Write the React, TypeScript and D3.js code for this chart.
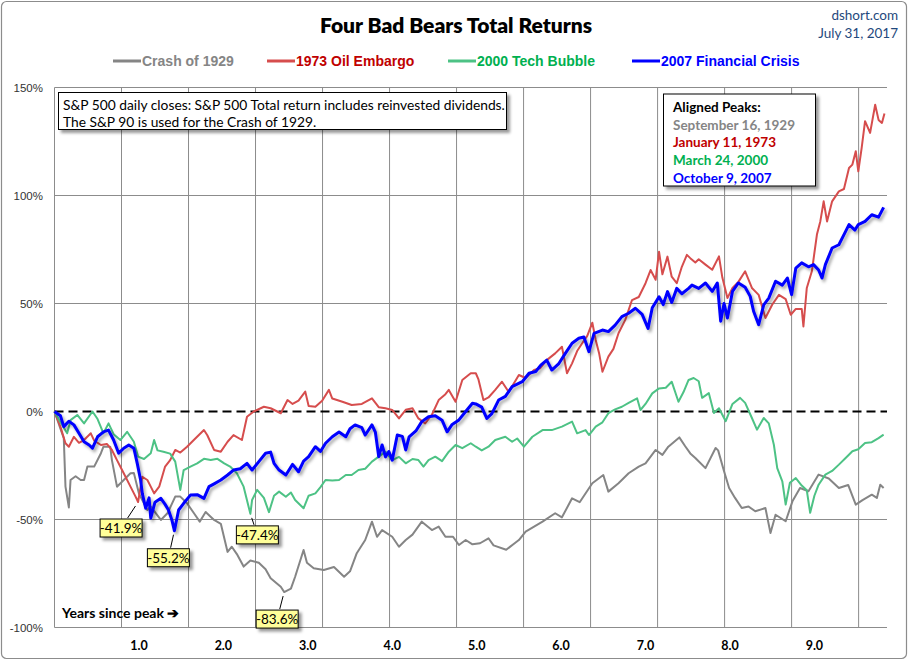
import * as d3 from "d3";

type Pt = [number, number]; // [years since peak, total return %]

const crash1929: Pt[] = [
  [0, 0], [0.07, -8], [0.11, -12.4], [0.13, -34.8], [0.17, -44.4], [0.19, -31.7], [0.25, -30], [0.31, -31.7],
  [0.35, -31.7], [0.39, -25.5], [0.47, -25.5], [0.55, -19.3], [0.58, -16.3], [0.66, -16.3], [0.68, -22.5],
  [0.74, -34.8], [0.82, -31.7], [0.9, -28.6], [0.94, -28.5], [1.0, -38], [1.1, -45.6], [1.14, -44], [1.26, -50.2],
  [1.34, -47], [1.43, -39.4], [1.49, -39.4], [1.57, -42.5], [1.65, -47], [1.72, -51], [1.79, -46.5], [1.89, -50.2],
  [1.97, -52], [2.05, -65], [2.1, -62.6], [2.16, -66], [2.24, -71.8], [2.32, -69], [2.42, -70], [2.5, -73],
  [2.56, -77.2], [2.68, -81.1], [2.72, -83.6], [2.8, -82], [2.85, -76.5], [2.95, -64.1], [2.99, -70], [3.07, -72.6],
  [3.19, -73.4], [3.31, -72], [3.43, -76.5], [3.5, -74], [3.58, -65.6], [3.68, -59.5], [3.76, -51], [3.82, -58],
  [3.88, -54.9], [4.0, -58], [4.08, -62.6], [4.16, -59.5], [4.24, -57], [4.35, -51], [4.47, -54.9], [4.55, -53.3],
  [4.63, -58], [4.72, -58], [4.79, -61.8], [4.87, -59.5], [4.95, -61.5], [5.04, -61], [5.14, -58.7], [5.2, -62],
  [5.35, -64], [5.45, -61], [5.5, -59.5], [5.58, -55.6], [5.78, -51], [5.93, -47.1], [6.01, -49], [6.13, -40.2],
  [6.22, -42], [6.37, -33.2], [6.5, -29.4], [6.56, -37.1], [6.68, -33.2], [6.8, -28.6], [6.92, -25.5], [7.0, -24],
  [7.12, -17.8], [7.2, -20.1], [7.27, -16.3], [7.4, -12], [7.47, -16.1], [7.53, -19.4], [7.59, -21.5], [7.71, -26.2],
  [7.83, -16.9], [7.86, -18], [7.93, -27.7], [7.99, -35.4], [8.06, -40], [8.14, -44.7], [8.22, -44], [8.3, -46.2],
  [8.42, -44.7], [8.48, -56.3], [8.54, -47.8], [8.66, -50.8], [8.74, -41.6], [8.83, -35.4], [8.93, -36.9],
  [9.05, -29.2], [9.17, -31], [9.29, -35.4], [9.4, -34], [9.49, -43.1], [9.57, -41], [9.68, -38.5], [9.74, -40],
  [9.78, -33.9], [9.82, -35.4],
];

const oil1973: Pt[] = [
  [0, 0], [0.07, -7], [0.13, -14.7], [0.17, -16.3], [0.23, -11.7], [0.29, -14.5], [0.35, -13.2], [0.43, -10.1],
  [0.47, -13.5], [0.55, -15.5], [0.62, -15], [0.68, -17.8], [0.74, -22.5], [0.82, -28.6], [0.9, -34.8],
  [0.96, -39.4], [0.99, -41.9], [1.04, -30.2], [1.1, -31.7], [1.14, -34.8], [1.18, -37.9], [1.24, -34.8],
  [1.31, -25.5], [1.37, -22.5], [1.43, -17.8], [1.49, -19], [1.57, -16.3], [1.65, -13.2], [1.77, -8.6], [1.81, -11],
  [1.89, -17.8], [1.97, -18.6], [2.05, -14], [2.12, -10.9], [2.22, -13.2], [2.28, -2.4], [2.36, 0], [2.48, 2.2],
  [2.56, 1.5], [2.68, -0.8], [2.76, 5.3], [2.82, 3.5], [2.89, 5], [2.97, 9.2], [3.01, 2.5], [3.09, 2.2], [3.17, 5],
  [3.25, 10], [3.29, 6], [3.41, 4.5], [3.52, 3], [3.64, 3.5], [3.76, 6.1], [3.84, 2], [3.92, 1.5], [4.0, 0.7],
  [4.08, -3.2], [4.16, 0.8], [4.24, 1.5], [4.31, -3.2], [4.39, -5.5], [4.47, -1.5], [4.55, 5.3], [4.63, 8],
  [4.67, 10], [4.75, 4.5], [4.83, 14.6], [4.93, 17.7], [4.99, 17.7], [5.02, 15], [5.08, 5.3], [5.14, 6.5],
  [5.22, 10], [5.3, 13.8], [5.38, 9], [5.5, 16.9], [5.58, 15.5], [5.68, 19.2], [5.75, 20], [5.83, 23.8],
  [5.93, 26.9], [6.01, 30], [6.07, 17.7], [6.13, 22.3], [6.19, 28], [6.25, 31.6], [6.31, 35], [6.37, 41.1],
  [6.41, 33.1], [6.45, 27], [6.49, 18.4], [6.56, 25.4], [6.62, 29], [6.68, 36.2], [6.76, 42.4], [6.84, 51.6],
  [6.92, 53], [7.0, 59.4], [7.06, 65.5], [7.12, 61], [7.16, 74], [7.2, 63.5], [7.26, 71.7], [7.31, 62.4],
  [7.37, 59.4], [7.43, 67], [7.49, 72.5], [7.53, 71], [7.59, 69], [7.63, 70.5], [7.71, 68], [7.79, 65.6],
  [7.87, 71.8], [7.91, 62], [7.97, 52.5], [8.03, 57.2], [8.1, 60], [8.18, 64.9], [8.26, 57.2], [8.34, 54],
  [8.42, 43.3], [8.5, 49.4], [8.58, 54], [8.66, 52], [8.72, 44.8], [8.78, 47.5], [8.85, 47.5], [8.87, 39.4],
  [8.91, 57.2], [8.97, 64.9], [9.03, 81.9], [9.07, 88], [9.11, 97.3], [9.15, 88], [9.21, 97.3], [9.29, 101.9],
  [9.35, 103], [9.41, 112.7], [9.45, 114.3], [9.49, 120.5], [9.52, 111.2], [9.56, 122], [9.6, 134.4], [9.66, 129],
  [9.72, 142], [9.76, 135], [9.8, 133.6], [9.83, 138],
];

const tech2000: Pt[] = [
  [0, 0], [0.07, -5], [0.15, -10.1], [0.19, -4], [0.27, -1.6], [0.35, -5.5], [0.45, 0], [0.51, -3.5], [0.58, -10.1],
  [0.64, -5.5], [0.7, -10.5], [0.78, -13.2], [0.86, -9.4], [0.94, -14], [0.99, -20.9], [1.06, -22], [1.14, -19.3],
  [1.18, -13.2], [1.22, -18], [1.29, -18.6], [1.37, -19.5], [1.43, -23.2], [1.49, -36.3], [1.53, -27.1],
  [1.61, -25.5], [1.69, -24], [1.77, -21.9], [1.85, -22.5], [1.93, -21.9], [2.01, -24], [2.08, -25.5],
  [2.16, -28.6], [2.24, -34.8], [2.32, -47.4], [2.34, -41], [2.4, -36.3], [2.48, -40], [2.54, -46.6], [2.6, -39],
  [2.66, -37.1], [2.74, -39.5], [2.8, -37.5], [2.85, -41], [2.95, -44.8], [3.01, -39], [3.09, -37.9], [3.15, -35],
  [3.21, -31.7], [3.29, -32], [3.37, -31.7], [3.45, -29.4], [3.52, -29.4], [3.6, -27.1], [3.68, -26.5],
  [3.76, -23.2], [3.84, -20.9], [3.92, -18.6], [4.0, -22.5], [4.08, -21], [4.16, -24], [4.24, -22], [4.31, -22.5],
  [4.37, -25.5], [4.43, -22.5], [4.51, -20.9], [4.59, -23], [4.67, -18.6], [4.75, -15.5], [4.83, -17],
  [4.93, -14.7], [4.99, -16.3], [5.06, -18], [5.14, -16.3], [5.22, -13.2], [5.34, -11.7], [5.42, -14],
  [5.48, -12.5], [5.56, -16.3], [5.66, -11.7], [5.78, -8.6], [5.89, -8.6], [6.01, -7], [6.13, -4.7], [6.19, -10.1],
  [6.29, -8.6], [6.33, -10.9], [6.41, -7], [6.49, -5], [6.56, -0.8], [6.64, 1], [6.72, 2.2], [6.8, 4], [6.9, 6.1],
  [6.94, 0.7], [7.0, 3.5], [7.08, 8.4], [7.16, 10.7], [7.24, 11], [7.31, 13.8], [7.39, 4.5], [7.45, 9],
  [7.51, 14.6], [7.57, 15.5], [7.63, 14], [7.67, 6.3], [7.75, 8.5], [7.81, -0.7], [7.87, 1.5], [7.95, -4.5],
  [8.03, 3.5], [8.12, 6.3], [8.18, 4], [8.26, -3], [8.32, -8.4], [8.4, -3], [8.46, -5.5], [8.52, -15.4],
  [8.56, -26.2], [8.62, -32.3], [8.66, -43.1], [8.71, -33], [8.78, -30.8], [8.85, -34.3], [8.91, -36.5],
  [8.95, -46.9], [9.0, -39], [9.05, -33.9], [9.13, -29.2], [9.21, -27.5], [9.29, -24.6], [9.37, -21.5],
  [9.45, -18.4], [9.52, -17.5], [9.6, -14.6], [9.68, -14.2], [9.76, -12.3], [9.82, -10.7],
];

const crisis2007: Pt[] = [
  [0, 0], [0.07, -2], [0.11, -7], [0.17, -4.5], [0.23, -6.2], [0.29, -10.1], [0.35, -14], [0.41, -15.5],
  [0.45, -17], [0.51, -11.7], [0.58, -9.4], [0.64, -8.6], [0.7, -13.2], [0.76, -19.3], [0.82, -17], [0.88, -15.5],
  [0.94, -17], [0.98, -24], [1.02, -31.7], [1.04, -38], [1.08, -44.8], [1.12, -40], [1.14, -49.4], [1.19, -42],
  [1.26, -40.2], [1.31, -43], [1.35, -45.6], [1.39, -50.2], [1.42, -55.2], [1.47, -45.6], [1.53, -42.5],
  [1.61, -38.7], [1.69, -38.5], [1.77, -40.2], [1.83, -34.8], [1.89, -33.5], [1.97, -31.7], [2.05, -29.4],
  [2.12, -27.1], [2.2, -26.5], [2.28, -24], [2.34, -27.1], [2.42, -23.2], [2.5, -19.3], [2.56, -18.8], [2.6, -24],
  [2.66, -27.1], [2.74, -29.4], [2.82, -24.5], [2.89, -27.9], [2.95, -23], [3.01, -20.9], [3.09, -16.3],
  [3.15, -18.5], [3.21, -14.7], [3.29, -11.7], [3.37, -9.5], [3.45, -11.7], [3.5, -8], [3.56, -6.2], [3.64, -7.5],
  [3.68, -10.9], [3.76, -6.2], [3.8, -9.5], [3.84, -20.9], [3.88, -15.5], [3.92, -21], [3.96, -18.5], [4.0, -22.5],
  [4.06, -10.9], [4.12, -11.5], [4.16, -17.8], [4.2, -11.7], [4.28, -9], [4.35, -4.7], [4.43, -2.4], [4.51, -2],
  [4.59, -4], [4.65, -9.4], [4.71, -6], [4.79, -3.9], [4.87, 0], [4.95, 3.8], [4.99, 3.5], [5.06, 2], [5.12, -3.2],
  [5.18, -1], [5.26, 5.3], [5.34, 7], [5.42, 11.5], [5.54, 13.8], [5.62, 17.7], [5.7, 18.5], [5.76, 21.5],
  [5.83, 23.8], [5.89, 19.2], [5.97, 22], [6.05, 26.9], [6.13, 31.6], [6.21, 33.9], [6.27, 34.5], [6.33, 27.7],
  [6.39, 36.2], [6.49, 37.7], [6.56, 37], [6.64, 40], [6.72, 43.9], [6.8, 45.5], [6.88, 47.8], [6.96, 45],
  [7.03, 38.5], [7.08, 48], [7.16, 53.1], [7.21, 49.5], [7.26, 55.5], [7.31, 50.5], [7.37, 57], [7.43, 54.5],
  [7.51, 57], [7.55, 58.5], [7.63, 57], [7.71, 59.5], [7.79, 55.6], [7.85, 59.5], [7.89, 41.8], [7.93, 50],
  [7.97, 43.3], [8.03, 55.6], [8.1, 59.5], [8.18, 57.5], [8.24, 53.3], [8.28, 46.4], [8.34, 40.2], [8.4, 49.4],
  [8.46, 52.5], [8.54, 60.3], [8.62, 58.5], [8.68, 61.8], [8.73, 54.1], [8.78, 66.4], [8.85, 68.8], [8.93, 67],
  [8.99, 68], [9.05, 65.5], [9.09, 61.8], [9.13, 68], [9.21, 75.7], [9.29, 77.2], [9.37, 83.4], [9.41, 86.5],
  [9.48, 84], [9.52, 86.5], [9.6, 88], [9.68, 91.1], [9.76, 90], [9.82, 94.5],
];

const seriesData = [crash1929, oil1973, tech2000, crisis2007];
const seriesNames = ["Crash of 1929", "1973 Oil Embargo", "2000 Tech Bubble", "2007 Financial Crisis"];
const peakDates = ["September 16, 1929", "January 11, 1973", "March 24, 2000", "October 9, 2007"];
const yTicks = [-100, -50, 0, 50, 100, 150];
const xTickLabels = [1, 2, 3, 4, 5, 6, 7, 8, 9];
const noteLines = [
  "S&P 500 daily closes: S&P 500 Total return includes reinvested dividends.",
  "The S&P 90 is used for the Crash of 1929.",
];
// bear-market bottoms that get a callout: [series index, years since peak]
const troughs: [number, number][] = [[1, 0.99], [3, 1.42], [2, 2.32], [0, 2.72]];

// styling
const lineColors = ["#858585", "#D64D4D", "#4DC285", "#0000FF"];
const textColors = ["#858585", "#C00000", "#00B050", "#0000FF"];
const lineWidths = [2, 2, 2, 3];
const legendX = [113, 267, 448, 632];
const calloutOffsets: [number, number][] = [[-17, 26], [-6, 27], [7, 21], [-7, 27]];

const W = 910;
const H = 661;
const left = 54.5;
const right = 887;
const top = 87.5;
const bottom = 627.5;

const calibri = "Lato, 'Open Sans', sans-serif";
const arial = "'Liberation Sans', Arial, sans-serif";

export default function App() {
  const x = d3.scaleLinear().domain([0, 9.86]).range([left, right]);
  const y = d3.scaleLinear().domain([-100, 150]).range([bottom, top]);
  const line = d3.line<Pt>().x((d) => x(d[0])).y((d) => y(d[1]));

  // vertical grid every 200 trading days
  const gridYears = d3.range(0, 9.86, 200 / 252);

  return (
    <svg width={W} height={H} style={{ position: "absolute", left: 0, top: 0, background: "#fff" }}>
      <defs>
        <filter id="boxShadow" x="-10%" y="-20%" width="130%" height="160%">
          <feDropShadow dx="3" dy="3" stdDeviation="1.8" floodColor="#000" floodOpacity="0.4" />
        </filter>
        <filter id="lineShadow" x="-5%" y="-5%" width="110%" height="115%">
          <feDropShadow dx="2" dy="2.5" stdDeviation="1.5" floodColor="#000" floodOpacity="0.35" />
        </filter>
      </defs>
      <rect x={1.5} y={1.5} width={905} height={657} rx={5} fill="#fff" stroke="#8c8c8c" strokeWidth={1.2} />

      <text x={456} y={33} textAnchor="middle" fontFamily={calibri} fontWeight={800} fontSize={21} fill="#000">
        Four Bad Bears Total Returns
      </text>
      <text x={898} y={20} textAnchor="end" fontFamily={calibri} fontSize={13.5} fill="#1F497D">dshort.com</text>
      <text x={898} y={38} textAnchor="end" fontFamily={calibri} fontSize={13.5} fill="#1F497D">July 31, 2017</text>

      {seriesNames.map((name, i) => (
        <g key={name}>
          <line x1={legendX[i]} x2={legendX[i] + 28} y1={61} y2={61} stroke={lineColors[i]} strokeWidth={3} />
          <text x={legendX[i] + 29} y={66} fontFamily={arial} fontWeight={700} fontSize={14} fill={textColors[i]}>
            {name}
          </text>
        </g>
      ))}

      {/* grid */}
      {yTicks.filter((t) => t !== 0).map((t) => (
        <line key={t} x1={left} x2={right} y1={y(t)} y2={y(t)} stroke="#8c8c8c" strokeWidth={1} />
      ))}
      {gridYears.map((g) => (
        <line key={g} x1={x(g)} x2={x(g)} y1={top} y2={bottom} stroke="#8c8c8c" strokeWidth={1} />
      ))}
      {yTicks.map((t) => (
        <text key={t} x={43} y={y(t) + 4} textAnchor="end" fontFamily={arial} fontSize={11.5} fill="#333">
          {t}%
        </text>
      ))}
      {xTickLabels.map((t) => (
        <text key={t} x={x(t)} y={650} textAnchor="middle" fontFamily={calibri} fontWeight={700} fontSize={12.5} fill="#000">
          {t.toFixed(1)}
        </text>
      ))}

      <line x1={left} x2={right} y1={y(0)} y2={y(0)} stroke="#000" strokeWidth={2} strokeDasharray="9,5" />

      {seriesData.map((d, i) => (
        <path
          key={i}
          d={line(d) ?? ""}
          fill="none"
          stroke={lineColors[i]}
          strokeWidth={lineWidths[i]}
          strokeLinejoin="round"
          filter={i === 3 ? "url(#lineShadow)" : undefined}
        />
      ))}

      <text x={62} y={618} fontFamily={calibri} fontWeight={700} fontSize={14} fill="#000">
        Years since peak ➔
      </text>

      {troughs.map(([s, yr], i) => {
        const pt = seriesData[s].find((p) => p[0] === yr)!;
        const px = x(pt[0]);
        const py = y(pt[1]);
        const [dx, dy] = calloutOffsets[i];
        const cx = px + dx;
        const cy = py + dy;
        const boxTop = cy - 9;
        const t1 = 4 / dy;
        const t2 = (boxTop - 1 - py) / dy;
        return (
          <g key={i}>
            <line x1={px + dx * t1} y1={py + 4} x2={px + dx * t2} y2={boxTop - 1} stroke="#000" strokeWidth={1} />
            <rect x={cx - 21} y={boxTop} width={42} height={18} fill="#FFFF99" stroke="#000" strokeWidth={1} filter="url(#boxShadow)" />
            <text x={cx} y={cy + 5} textAnchor="middle" fontFamily={calibri} fontSize={13.5} fill="#000">
              {pt[1].toFixed(1)}%
            </text>
          </g>
        );
      })}

      <g>
        <rect x={58.5} y={92.5} width={448} height={37} fill="#fff" stroke="#000" strokeWidth={1} filter="url(#boxShadow)" />
        {noteLines.map((t, i) => (
          <text key={i} x={63} y={110 + i * 16.5} fontFamily={calibri} fontSize={13.8} fill="#000">{t}</text>
        ))}
      </g>

      <g>
        <rect x={663.5} y={94} width={152} height={92} fill="#fff" stroke="#000" strokeWidth={1} filter="url(#boxShadow)" />
        <text x={673} y={111.5} fontFamily={calibri} fontWeight={700} fontSize={13.5} fill="#000">Aligned Peaks:</text>
        {peakDates.map((t, i) => (
          <text key={t} x={673} y={129.5 + i * 17.8} fontFamily={calibri} fontWeight={700} fontSize={13.5} fill={textColors[i]}>
            {t}
          </text>
        ))}
      </g>
    </svg>
  );
}
